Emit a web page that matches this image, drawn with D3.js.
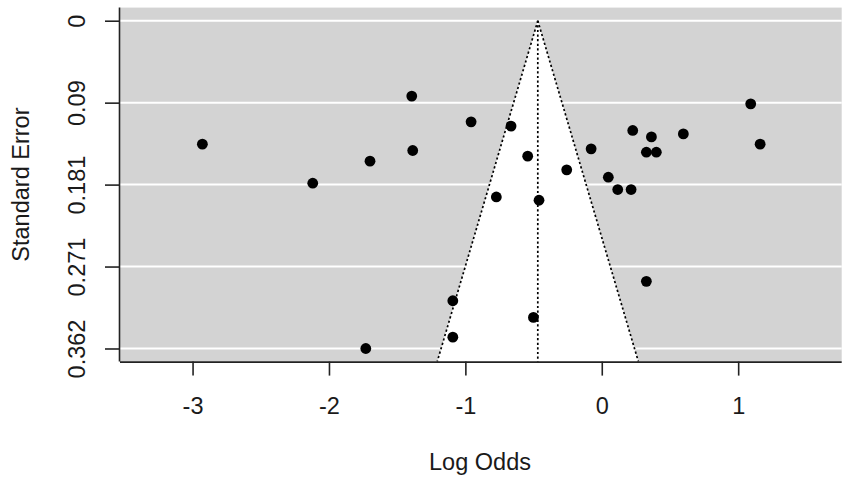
<!DOCTYPE html>
<html>
<head>
<meta charset="utf-8">
<script src="https://cdn.jsdelivr.net/npm/d3@7"></script>
<style>
  html, body { margin: 0; padding: 0; background: #fff; }
  text { font-family: "Liberation Sans", Arial, sans-serif; fill: #1a1a1a; }
</style>
</head>
<body>
<svg id="chart" width="850" height="484"></svg>
<script>
// Observed log odds (x) and standard errors (y)
const logOdds = [-2.928, -2.119, -1.699, -1.393, -1.386, -1.730,
                 -0.958, -0.665, -0.543, -0.257, -0.773, -0.460,
                 -0.078, 0.048, 0.117, 0.215, 0.227, 0.364, 0.327, 0.400,
                 0.598, 1.092, 1.161, 0.327, -1.092, -0.501, -1.092];
const stdErrors = [0.1362, 0.1793, 0.1550, 0.0832, 0.1432, 0.3617,
                   0.1116, 0.1163, 0.1495, 0.1646, 0.1945, 0.1981,
                   0.1414, 0.1727, 0.1863, 0.1863, 0.1211, 0.1282, 0.1451, 0.1451,
                   0.1249, 0.0917, 0.1362, 0.2876, 0.3090, 0.3274, 0.3492];
const pooledEstimate = -0.469;
const xTicks = [-3, -2, -1, 0, 1];
const seTicks = [0, 0.090425, 0.18085, 0.271275, 0.3617];
const seTickLabels = ["0", "0.09", "0.181", "0.271", "0.362"];
const xLabel = "Log Odds";
const yLabel = "Standard Error";

(function () {
const svg = d3.select("#chart");
const pLeft = 120, pRight = 841.7, pTop = 7.6, pBottom = 361.6;

const x = d3.scaleLinear().domain([-3.532, 1.759]).range([pLeft, pRight]);
const seMax = d3.max(seTicks);
const y = d3.scaleLinear().domain([-0.04 * seMax, 1.04 * seMax]).range([pTop, pBottom]);
const seBottom = y.domain()[1];

// background
svg.append("rect").attr("x", pLeft).attr("y", pTop)
  .attr("width", pRight - pLeft).attr("height", pBottom - pTop)
  .attr("fill", "#d3d3d3");

// funnel (white)
const z = 1.96;
const funnelPts = [
  [x(pooledEstimate), y(0)],
  [x(pooledEstimate + z * seBottom), y(seBottom)],
  [x(pooledEstimate - z * seBottom), y(seBottom)]
];
svg.append("polygon").attr("points", funnelPts.map(p => p.join(",")).join(" "))
  .attr("fill", "#ffffff");

// horizontal grid lines
svg.append("g").selectAll("line").data(seTicks).join("line")
  .attr("x1", pLeft).attr("x2", pRight)
  .attr("y1", d => y(d)).attr("y2", d => y(d))
  .attr("stroke", "#ffffff").attr("stroke-width", 2);

// funnel dotted lines
const dotted = svg.append("g").attr("stroke", "#000").attr("stroke-width", 1.7)
  .attr("stroke-dasharray", "2.2,2.4").attr("fill", "none");
dotted.append("line")
  .attr("x1", funnelPts[0][0]).attr("y1", funnelPts[0][1])
  .attr("x2", funnelPts[1][0]).attr("y2", funnelPts[1][1]);
dotted.append("line")
  .attr("x1", funnelPts[0][0]).attr("y1", funnelPts[0][1])
  .attr("x2", funnelPts[2][0]).attr("y2", funnelPts[2][1]);
dotted.append("line")
  .attr("x1", x(pooledEstimate)).attr("y1", y(0))
  .attr("x2", x(pooledEstimate)).attr("y2", y(seBottom));

// points
svg.append("g").selectAll("circle").data(logOdds.map((d, i) => [d, stdErrors[i]])).join("circle")
  .attr("cx", d => x(d[0])).attr("cy", d => y(d[1]))
  .attr("r", 5.4).attr("fill", "#000");

// x axis
const xAxis = d3.axisBottom(x).tickValues(xTicks).tickSize(14)
  .tickFormat(d => String(d));
const gx = svg.append("g").attr("transform", `translate(0,${pBottom})`).call(xAxis);
gx.select(".domain").attr("d", `M${pLeft},0.5H${pRight}`).attr("stroke", "#222").attr("stroke-width", 1.6);
gx.selectAll(".tick line").attr("stroke", "#222").attr("stroke-width", 1.6);
gx.selectAll(".tick text").attr("font-size", 23.5).attr("fill", "#1a1a1a")
  .attr("dy", null).attr("y", 414 - pBottom);

// y axis
const yAxis = d3.axisLeft(y).tickValues(seTicks).tickSize(15)
  .tickFormat((d, i) => seTickLabels[i]);
const gy = svg.append("g").attr("transform", `translate(${pLeft},0)`).call(yAxis);
gy.select(".domain").attr("d", `M-0.5,${pTop}V${pBottom}`).attr("stroke", "#222").attr("stroke-width", 1.6);
gy.selectAll(".tick line").attr("stroke", "#222").attr("stroke-width", 1.6);
gy.selectAll(".tick text").attr("font-size", 23.5).attr("fill", "#1a1a1a")
  .attr("x", null).attr("dy", null)
  .attr("text-anchor", "middle")
  .attr("transform", `translate(${85 - pLeft},0) rotate(-90)`);

// axis titles
svg.append("text").attr("x", 480).attr("y", 470).attr("text-anchor", "middle")
  .attr("font-size", 23.5).text(xLabel);
svg.append("text").attr("transform", `translate(28.5,${(pTop + pBottom) / 2}) rotate(-90)`)
  .attr("text-anchor", "middle").attr("font-size", 23.5).text(yLabel);
})();
</script>
</body>
</html>
